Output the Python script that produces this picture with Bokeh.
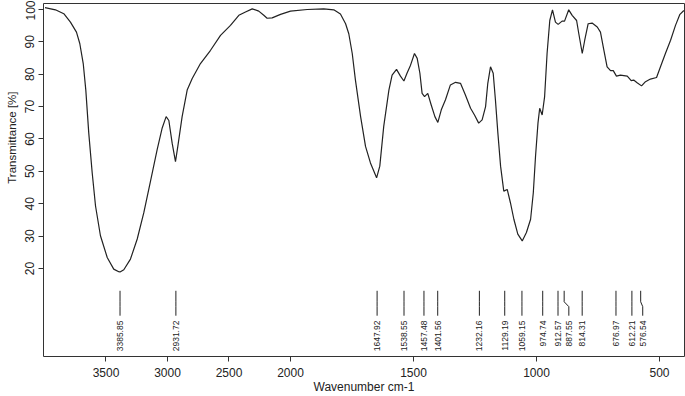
import math
from bokeh.plotting import figure
from bokeh.models import Range1d, FixedTicker, Title, CustomJSTickFormatter
from bokeh.embed import file_html
from bokeh.resources import INLINE
from bokeh.core.properties import value

# ---- data ----
wavenumber = [3996, 3911, 3843, 3789, 3740, 3713, 3685, 3664, 3640, 3612, 3585, 3545, 3490, 3437,
              3396, 3386, 3355, 3301, 3246, 3192, 3138, 3084, 3043, 3011, 2989, 2962, 2935, 2916,
              2881, 2840, 2799, 2732, 2650, 2569, 2488, 2420, 2366, 2311, 2258, 2217, 2190, 2149,
              2081, 2000, 1932, 1865, 1824, 1797, 1776, 1763, 1749, 1736, 1715, 1695, 1675, 1650,
              1637, 1621, 1600, 1587, 1569, 1553, 1539, 1526, 1512, 1496, 1485, 1474, 1465, 1455,
              1442, 1428, 1413, 1401, 1387, 1370, 1350, 1329, 1309, 1289, 1268, 1252, 1235, 1221,
              1207, 1198, 1187, 1176, 1167, 1157, 1146, 1133, 1119, 1106, 1092, 1076, 1058, 1041,
              1024, 1013, 1004, 994, 987, 977, 967, 957, 946, 935, 923, 912, 896, 886, 869, 855,
              837, 828, 814, 804, 790, 774, 753, 740, 726, 713, 699, 688, 675, 659, 631, 615, 605,
              591, 573, 557, 537, 512, 496, 476, 455, 435, 417, 401]
transmittance = [100.6, 99.9, 98.7, 96.1, 93.0, 89.5, 83.3, 75.1, 61.8, 49.5, 39.3, 30.1, 23.4, 19.8,
                 19.0, 18.9, 19.6, 22.9, 29.1, 37.3, 47.0, 56.7, 63.4, 66.9, 65.7, 58.7, 53.0, 57.7,
                 66.9, 75.1, 78.7, 83.3, 87.4, 92.0, 95.1, 98.2, 99.2, 100.2, 99.5, 98.2, 97.3, 97.4,
                 98.5, 99.5, 100.0, 100.2, 99.9, 98.6, 95.6, 92.5, 86.4, 78.2, 66.9, 57.7, 52.6, 48.0,
                 51.6, 63.9, 75.1, 79.7, 81.5, 79.4, 77.9, 80.4, 82.8, 86.4, 84.9, 80.3, 74.1, 73.1,
                 74.1, 70.5, 66.9, 65.1, 69.0, 72.1, 76.7, 77.5, 77.2, 73.6, 69.5, 67.4, 64.9, 65.9,
                 70.0, 77.2, 82.3, 80.3, 72.1, 61.8, 51.6, 43.9, 44.4, 40.3, 35.2, 30.6, 28.5, 31.1,
                 35.2, 43.4, 54.6, 64.9, 69.5, 67.4, 73.1, 86.4, 96.6, 99.9, 96.1, 95.4, 96.4, 96.4, 99.9, 98.2,
                 96.6, 92.5, 86.4, 90.5, 95.6, 95.8, 94.6, 93.0, 87.4, 82.3, 81.1, 81.1, 79.4, 79.7, 79.4, 78.0, 78.2,
                 77.4, 76.4, 77.7, 78.5, 79.0, 82.3, 86.4, 90.5, 95.1, 98.5, 99.7]
peaks = [3385.85, 2931.72, 1647.92, 1538.55, 1457.48, 1401.56, 1232.16, 1129.19,
         1059.15, 974.74, 912.57, 887.55, 814.31, 676.97, 612.21, 576.54]
peak_labels = ["3385.85", "2931.72", "1647.92", "1538.55", "1457.48", "1401.56", "1232.16", "1129.19",
               "1059.15", "974.74", "912.57", "887.55", "814.31", "676.97", "612.21", "576.54"]
x_ticks = [3500, 3000, 2500, 2000, 1500, 1000, 500]
y_ticks = [20, 30, 40, 50, 60, 70, 80, 90, 100]

# ---- axis scale: above 2000 cm-1 the scale is compressed by a factor of 2 ----
BREAK = 2000.0
def fx(w):
    return w if w <= BREAK else BREAK + (w - BREAK) * 0.5

FONT = "Liberation Sans"
INK = "#222222"

p = figure(width=685, height=396, output_backend="svg", toolbar_location=None,
           x_range=Range1d(3004, 398.4), y_range=Range1d(-7.2, 101.85),
           min_border_left=43, min_border_right=1, min_border_top=3, min_border_bottom=38)
p.background_fill_color = "white"
p.border_fill_color = "white"
p.xgrid.visible = False
p.ygrid.visible = False
p.outline_line_color = "#333333"
p.outline_line_width = 1

# spectrum
p.line(x=[fx(w) for w in wavenumber], y=transmittance, line_color=INK, line_width=1.2)

# peak markers with labels spread to avoid overlap
SEP = 44.0
lab_x = []
prev = None
for w in peaks:
    f = fx(w)
    if prev is not None and prev - f < SEP:
        f = prev - SEP
    lab_x.append(f)
    prev = f

LINE_TOP, BEND_TOP, BEND_BOT, LINE_BOT, LABEL_TOP = 13.1, 9.7, 8.2, 5.4, 3.9
xs = [[fx(w), fx(w), lx, lx] for w, lx in zip(peaks, lab_x)]
ys = [[LINE_TOP, BEND_TOP, BEND_BOT, LINE_BOT] for _ in peaks]
p.multi_line(xs=xs, ys=ys, line_color=INK, line_width=1)
p.text(x=lab_x, y=[LABEL_TOP] * len(peaks), text=peak_labels, angle=math.pi / 2,
       text_align="right", text_baseline="middle", text_font=value(FONT),
       text_font_size="8.5px", text_color=INK)

# axes
xa = p.xaxis[0]
xa.ticker = FixedTicker(ticks=[fx(t) for t in x_ticks])
xa.formatter = CustomJSTickFormatter(code="""
    const w = tick > 2000 ? 2000 + (tick - 2000) * 2 : tick;
    return w.toFixed(0);
""")
ya = p.yaxis[0]
ya.ticker = FixedTicker(ticks=y_ticks)
ya.major_label_orientation = "vertical"
for ax in (xa, ya):
    ax.axis_line_color = None
    ax.major_tick_line_color = "#333333"
    ax.major_tick_out = 5
    ax.major_tick_in = 0
    ax.minor_tick_out = 0
    ax.minor_tick_in = 0
    ax.major_label_text_font = FONT
    ax.major_label_text_font_size = "12px"
    ax.major_label_text_color = INK
xa.major_label_standoff = 6
ya.major_label_standoff = 4

xa.axis_label = "Wavenumber cm-1"
xa.axis_label_standoff = 0
xa.axis_label_text_font = FONT
xa.axis_label_text_font_size = "12px"
xa.axis_label_text_font_style = "normal"
xa.axis_label_text_color = INK

ytitle = Title(text="Transmittance [%]", align="right", offset=88, standoff=5,
               vertical_align="top", text_font=FONT, text_font_size="11.5px",
               text_font_style="normal", text_color=INK)
p.add_layout(ytitle, "left")

open("out.html", "w").write(file_html(p, INLINE))
